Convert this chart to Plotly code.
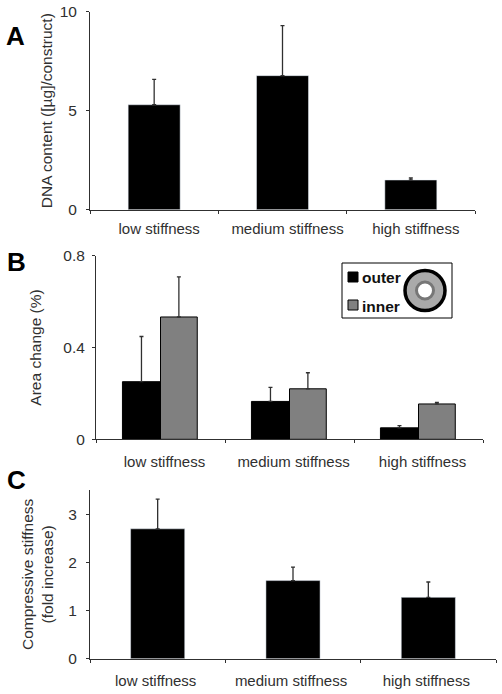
import plotly.graph_objects as go

W, H = 502, 694
categories = ["low stiffness", "medium stiffness", "high stiffness"]

dna_values = [5.3, 6.77, 1.5]
dna_errors = [1.28, 2.53, 0.1]

outer_values = [0.251, 0.165, 0.05]
outer_errors = [0.197, 0.061, 0.01]
inner_values = [0.533, 0.22, 0.154]
inner_errors = [0.175, 0.07, 0.007]

stiffness_values = [2.71, 1.63, 1.28]
stiffness_errors = [0.62, 0.28, 0.32]

legend_names = ["outer", "inner"]

TEXT = "#303030"
AXIS = "#303030"
BLACK = "#000000"
GRAY = "#808080"
FONT = "Liberation Sans"


def err(values):
    return dict(type="data", symmetric=False, array=values, arrayminus=[0] * len(values),
                color=AXIS, thickness=1.3, width=2)


def hdom(a, b):
    return [a / W, b / W]


def vdom(top, bottom):
    return [1 - bottom / H, 1 - top / H]


fig = go.Figure()
fig.add_bar(x=categories, y=dna_values, error_y=err(dna_errors), marker=dict(color=BLACK),
            width=0.405, offset=-0.2025, xaxis="x", yaxis="y")
fig.add_bar(x=categories, y=outer_values, error_y=err(outer_errors), name=legend_names[0],
            marker=dict(color=BLACK, line=dict(color=BLACK, width=1)),
            width=0.295, offset=-0.295, xaxis="x2", yaxis="y2")
fig.add_bar(x=categories, y=inner_values, error_y=err(inner_errors), name=legend_names[1],
            marker=dict(color=GRAY, line=dict(color=BLACK, width=1)),
            width=0.285, offset=0, xaxis="x2", yaxis="y2")
fig.add_bar(x=categories, y=stiffness_values, error_y=err(stiffness_errors), marker=dict(color=BLACK),
            width=0.4, offset=-0.2, xaxis="x3", yaxis="y3")


def xaxis(dom, anchor, shift, label_gap):
    return dict(domain=hdom(*dom), anchor=anchor, type="category", tickson="boundaries", ticks="outside",
                ticklen=3, tickwidth=1, tickcolor=AXIS, showline=True, linecolor=AXIS, linewidth=1,
                showgrid=False, zeroline=False, ticklabelshift=shift, ticklabelstandoff=label_gap,
                tickfont=dict(size=15, color=TEXT, family=FONT))


def yaxis(dom, anchor, rng, ticks, labels, title, standoff, label_gap, size=15.5):
    return dict(domain=vdom(*dom), anchor=anchor, range=rng, tickmode="array", tickvals=ticks, ticktext=labels,
                ticks="outside", ticklen=3, tickwidth=1, tickcolor=AXIS, showline=True, linecolor=AXIS,
                linewidth=1, showgrid=False, zeroline=False, ticklabelstandoff=label_gap,
                tickfont=dict(size=15.5, color=TEXT, family=FONT),
                title=dict(text=title, standoff=standoff, font=dict(size=size, color=TEXT, family=FONT)))


def box(x0, x1, top, bottom, **kw):
    return dict(xref="paper", yref="paper", x0=x0 / W, x1=x1 / W, y0=1 - bottom / H, y1=1 - top / H, **kw)


panels = [("A", 15, 36), ("B", 16, 262), ("C", 16, 480)]

shapes = [
    box(342, 452, 263, 318, type="rect", fillcolor="white", line=dict(color=BLACK, width=1)),
    box(348, 358, 272, 282, type="rect", fillcolor=BLACK, line=dict(color=BLACK, width=1)),
    box(348, 358, 300, 310, type="rect", fillcolor=GRAY, line=dict(color=BLACK, width=1)),
    box(405, 445, 270.5, 310.5, type="circle", fillcolor="#aaaaaa", line=dict(color=BLACK, width=3.5)),
    box(416.5, 433.5, 282, 299, type="circle", fillcolor="#ffffff", line=dict(color="#777777", width=3)),
]

annotations = [dict(text=t, x=x / W, y=1 - y / H, xref="paper", yref="paper", showarrow=False,
                    xanchor="center", yanchor="middle",
                    font=dict(size=26, color=BLACK, family=FONT, weight="bold")) for t, x, y in panels]
annotations += [dict(text=t, x=362 / W, y=1 - y / H, xref="paper", yref="paper", showarrow=False,
                     xanchor="left", yanchor="middle", xshift=-2,
                     font=dict(size=15.5, color="#111111", family=FONT, weight="bold"))
                for t, y in zip(legend_names, [277, 306])]

fig.update_layout(
    width=W, height=H, margin=dict(l=0, r=0, t=0, b=0, autoexpand=False), autosize=False,
    paper_bgcolor="white", plot_bgcolor="rgba(0,0,0,0)",
    font=dict(family=FONT, color=TEXT),
    barmode="group", showlegend=False,
    xaxis=xaxis((90, 475), "y", 5, 5),
    yaxis=yaxis((11.7, 209.7), "x", [0, 10], [0, 5, 10], ["0", "5", "10"], "DNA content ([µg]/construct)", 3, 6),
    xaxis2=xaxis((96, 483), "y2", 4, 9),
    yaxis2=yaxis((255.7, 439.3), "x2", [0, 0.8], [0, 0.4, 0.8], ["0", "0.4", "0.8"], "Area change (%)", 17, 4),
    xaxis3=xaxis((90, 496), "y3", -2, 8),
    yaxis3=yaxis((490, 658.7), "x3", [0, 3.52], [0, 1, 2, 3], ["0", "1", "2", "3"],
                 "Compressive stiffness<br>(fold increase)", 10, 6),
    shapes=shapes,
    annotations=annotations,
)
fig.write_html("out.html", config=dict(displayModeBar=False), post_script="document.body.style.margin='0';")
